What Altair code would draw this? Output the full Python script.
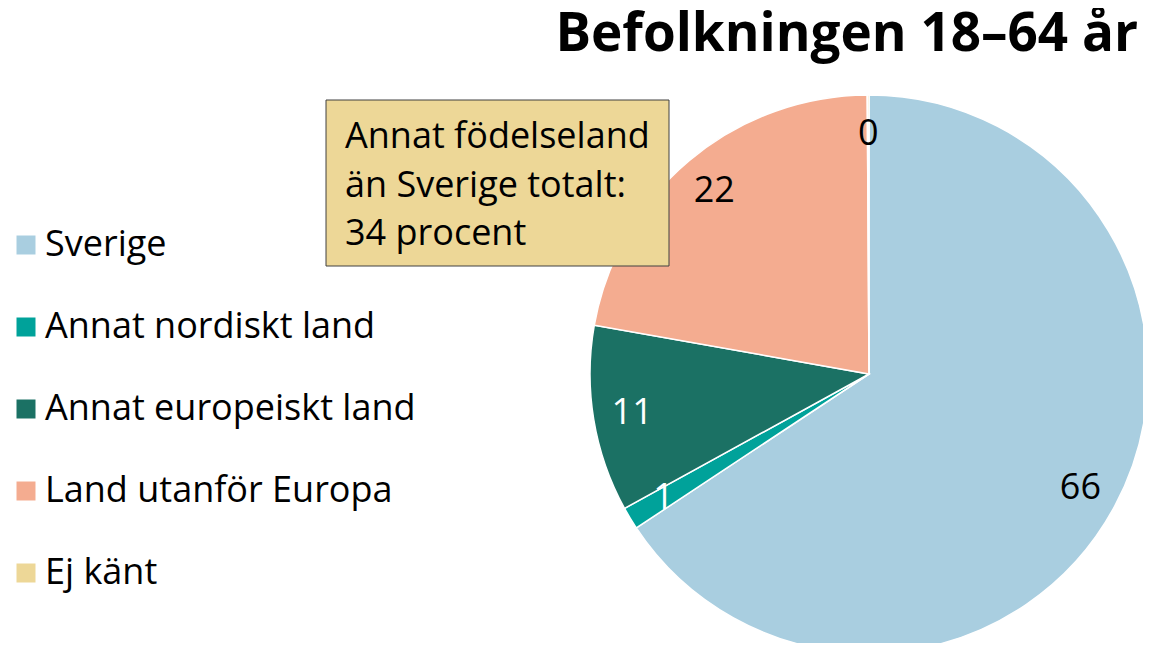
import altair as alt
import pandas as pd

categories = ["Sverige", "Annat nordiskt land", "Annat europeiskt land", "Land utanför Europa", "Ej känt"]
values = [65.7, 1.3, 10.8, 22.1, 0.1]
labels = ["66", "1", "11", "22", "0"]
label_colors = ["black", "white", "white", "black", "black"]
colors = ["#A9CEE0", "#00A29A", "#1B7164", "#F4AC90", "#EDD797"]
title_text = "Befolkningen 18–64 år"
note_lines = ["Annat födelseland", "än Sverige totalt:", "34 procent"]

FONT = "Open Sans"
W, H = 1135, 635
CX, CY, R = 861, 366, 279

df = pd.DataFrame({
    "kategori": categories,
    "andel": values,
    "etikett": labels,
    "tc": label_colors,
    "ordning": list(range(len(categories))),
})

base = alt.Chart(df)

arcs = base.mark_arc(radius=R, stroke="white", strokeWidth=1.5).encode(
    theta=alt.Theta("andel:Q", stack=True),
    order=alt.Order("ordning:Q"),
    x=alt.value(CX),
    y=alt.value(CY),
    color=alt.Color(
        "kategori:N",
        scale=alt.Scale(domain=categories, range=colors),
        sort=categories,
        legend=alt.Legend(
            title=None,
            orient="none",
            legendX=0,
            legendY=219,
            symbolType="square",
            symbolSize=361,
            symbolStrokeWidth=0,
            labelFontSize=36,
            labelFont=FONT,
            labelColor="black",
            labelOffset=1,
            rowPadding=46,
            labelLimit=500,
            padding=0,
        ),
    ),
)

texts = base.mark_text(radius=240, fontSize=36, font=FONT).encode(
    theta=alt.Theta("andel:Q", stack=True),
    order=alt.Order("ordning:Q"),
    x=alt.value(CX),
    y=alt.value(CY),
    text="etikett:N",
    color=alt.Color("tc:N", scale=None),
)

title = alt.Chart(pd.DataFrame({"t": [title_text]})).mark_text(
    fontSize=53, fontWeight="bold", font=FONT, align="right", baseline="alphabetic", color="black"
).encode(text="t:N", x=alt.value(1130), y=alt.value(43))

box = alt.Chart(pd.DataFrame({"a": [1]})).mark_rect(
    fill="#EDD797", stroke="#404040", strokeWidth=1
).encode(x=alt.value(318), x2=alt.value(661), y=alt.value(92), y2=alt.value(258))

note = alt.Chart(pd.DataFrame({"t": ["\n".join(note_lines)]})).mark_text(
    fontSize=36, font=FONT, align="left", baseline="alphabetic", lineBreak="\n",
    lineHeight=48.5, color="black"
).encode(text="t:N", x=alt.value(337), y=alt.value(140))

chart = alt.layer(arcs, texts, box, note, title).properties(
    width=W, height=H, autosize=alt.AutoSizeParams(type="none"), padding=0
).configure_view(stroke=None)

chart.save("out.html", embed_options={"renderer": "svg", "actions": False})
